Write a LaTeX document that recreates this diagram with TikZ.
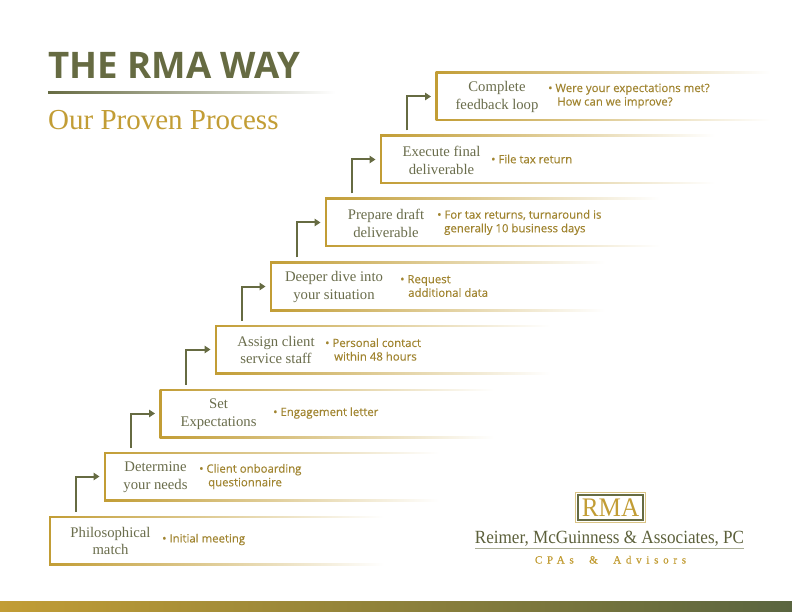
\documentclass[tikz,border=0pt]{standalone}
\usepackage{fontspec}
\setmainfont{Liberation Serif}
\newfontfamily\osans{Open Sans}
\newfontfamily\osemi[FakeBold=0.25]{Open Sans}
\usetikzlibrary{arrows.meta}
\definecolor{rmagold}{HTML}{C29D35}
\definecolor{rmaolive}{HTML}{666B42}
\definecolor{rmatext}{HTML}{6A6D4C}
\definecolor{rmadetail}{HTML}{A0842F}
\definecolor{rmaband}{HTML}{5A6540}
\pgfdeclarehorizontalshading{goldfade}{100bp}{color(0bp)=(rmagold); color(25bp)=(rmagold); color(75bp)=(white); color(100bp)=(white)}
\pgfdeclarehorizontalshading{olivefade}{100bp}{color(0bp)=(rmaolive); color(25bp)=(rmaolive); color(75bp)=(white); color(100bp)=(white)}
\tikzset{
  stepbox/.style={rectangle,anchor=north west,minimum width=335pt,minimum height=49pt,inner sep=0pt,outer sep=0pt,shade,shading=goldfade},
  stepinner/.style={rectangle,anchor=north west,minimum width=333pt,minimum height=45pt,inner sep=0pt,outer sep=0pt,fill=white},
  steptitle/.style={align=center,inner sep=0pt,text=rmatext,font=\fontsize{14.7}{17.8}\selectfont},
  stepdetail/.style={align=left,anchor=west,inner sep=0pt,text=rmadetail,font=\osemi\fontsize{11.4}{13.6}\selectfont},
  flowarrow/.style={draw=rmaolive,line width=2pt,-{Triangle[length=6pt,width=7.5pt]}},
}
\newcommand{\rmastep}[8]{%
  \node[stepbox] (b#1) at (#2,#3) {};
  \node[stepinner] (i#1) at (#2+2,#3+2) {};
  \node[steptitle] (t#1) at (#4,#3+25) {#5};
  \node[stepdetail] (d#1) at (#6,#3+#7) {#8};
}
\begin{document}
\begin{tikzpicture}[x=1pt,y=-1pt]
\useasboundingbox (0,0) rectangle (792,612);
% header
\node[anchor=base west,inner sep=0pt,text=rmaolive,font=\osans\bfseries\fontsize{36.6}{36}\selectfont] (head) at (48,78.5) {THE RMA WAY};
\shade[shading=olivefade] (48,91.5) rectangle (335,93.5);
\node[anchor=base west,inner sep=0pt,text=rmagold,font=\fontsize{29}{29}\selectfont] (sub) at (48,130) {Our Proven Process};
% steps
\rmastep{1}{49}{516}{110.5}{Philosophical\\match}{162}{23.5}{• Initial meeting}
\rmastep{2}{104}{452}{155.5}{Determine\\your needs}{199}{24.5}{• Client onboarding\\\hspace*{9pt}questionnaire}
\rmastep{3}{159.5}{389}{218.5}{Set\\Expectations}{273}{24}{• Engagement letter}
\rmastep{4}{215}{325}{276}{Assign client\\service staff}{325}{24.5}{• Personal contact\\\hspace*{9pt}within 48 hours}
\rmastep{5}{270}{262}{334}{Deeper dive into\\your situation}{400}{24}{• Request\\\hspace*{8pt}additional data}
\rmastep{6}{325}{198}{386}{Prepare draft\\deliverable}{437}{24.5}{• For tax returns, turnaround is\\\hspace*{7pt}generally 10 business days}
\rmastep{7}{380}{135}{441.5}{Execute final\\deliverable}{491}{24}{• File tax return}
\rmastep{8}{435.5}{72}{497}{Complete\\feedback loop}{548}{24}{• Were your expectations met?\\\hspace*{9pt}How can we improve?}
% connectors
\foreach \a/\b in {1/2,2/3,3/4,4/5,5/6,6/7,7/8}{
  \draw[flowarrow] ([xshift=26.5pt,yshift=4.5pt]b\a.north west) |- ([xshift=-4.5pt]b\b.west);
}
% logo
\node[draw=rmagold!60,line width=1pt,inner sep=0pt,minimum width=70pt,minimum height=30pt] (logoouter) at (610.5,507.5) {};
\node[draw=rmaolive,line width=2pt,inner sep=0pt,minimum width=65pt,minimum height=25pt,text=rmagold,font=\fontsize{26.8}{26}\selectfont] (logo) at (610.5,507.5) {\scalebox{0.94}[1]{RMA}};
\node[anchor=base,inner sep=0pt,text=rmaolive!90!black,font=\fontsize{18.6}{18}\selectfont] (firm) at (609.5,543.3) {\scalebox{0.92}[1]{Reimer, McGuinness \& Associates, PC}};
\draw[draw=rmaolive!55,line width=1pt] (475,548.5) -- (744,548.5);
\node[anchor=base,inner sep=0pt,text=rmagold,font=\addfontfeatures{LetterSpace=43,FakeBold=0.45}\fontsize{11}{11}\selectfont] (cpa) at (610.5,563.5) {CPAs\hspace{8pt} \&\hspace{8pt} Advisors};
% band
\shade[left color=rmagold,right color=rmaband] (0,601) rectangle (792,612);
\end{tikzpicture}
\end{document}
